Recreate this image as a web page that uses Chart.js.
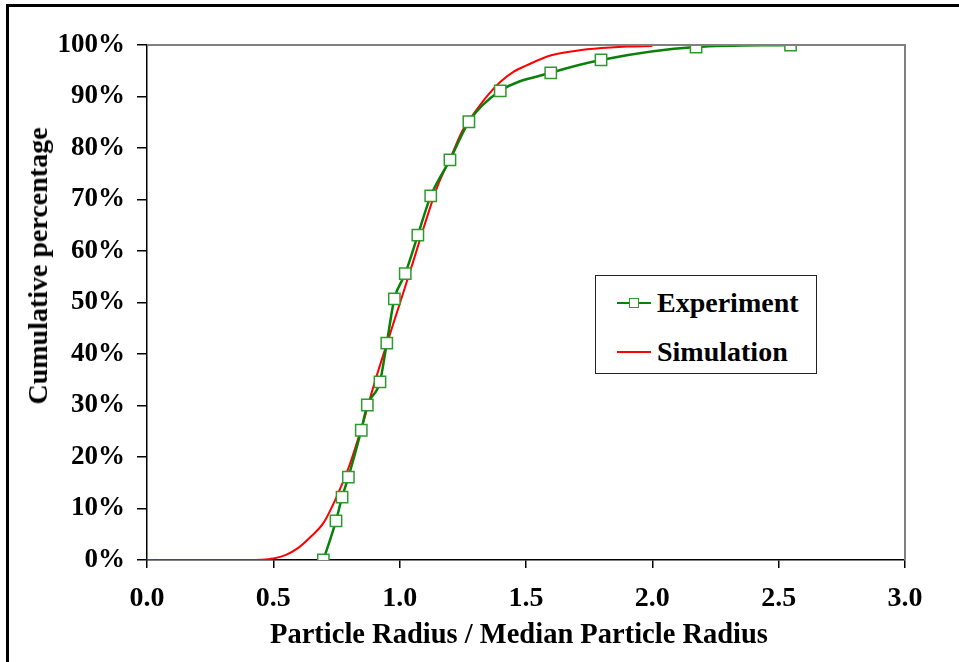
<!DOCTYPE html>
<html>
<head>
<meta charset="utf-8">
<script src="https://cdn.jsdelivr.net/npm/chart.js@4/dist/chart.umd.min.js"></script>
<style>
  html, body { margin:0; padding:0; background:#fff; overflow:hidden; }
  #wrap { position:relative; width:959px; height:662px; }
  #frame { position:absolute; left:6px; top:4px; width:1000px; height:1000px; border-left:3px solid #000; border-top:3px solid #000; box-sizing:border-box; }
  canvas { position:absolute; left:0; top:0; }
  .serif { font-family:'Liberation Serif','Times New Roman',serif; font-weight:bold; color:#000; }
  #ytitle { position:absolute; left:38px; top:266px; transform:translate(-50%,-50%) rotate(-90deg); white-space:nowrap; font-size:28px; }
  #xtitle { position:absolute; left:519px; top:620px; transform:translateX(-50%); white-space:nowrap; font-size:28.5px; line-height:1; }
  #legend { position:absolute; left:595px; top:275px; width:222px; height:99px; border:1.5px solid #222; box-sizing:border-box; background:#fff; }
  .lrow { position:absolute; left:0; height:30px; width:220px; }
  .lline { position:absolute; left:21px; width:34px; height:2px; }
  .lmark { position:absolute; left:33px; width:10px; height:10px; border:1.5px solid #2e9a2e; background:#fff; box-sizing:border-box; }
  .ltext { position:absolute; left:61px; font-size:28px; line-height:30px; }
</style>
</head>
<body>
<div id="wrap">
  <div id="frame"></div>
  <canvas id="c" width="959" height="662"></canvas>
  <div id="ytitle" class="serif">Cumulative percentage</div>
  <div id="xtitle" class="serif">Particle Radius / Median Particle Radius</div>
  <div id="legend">
    <div class="lrow" style="top:12px;">
      <div class="lline" style="top:14px;background:#0a800a;"></div>
      <div class="lmark" style="top:10px;"></div>
      <div class="ltext serif" style="top:0;">Experiment</div>
    </div>
    <div class="lrow" style="top:61px;">
      <div class="lline" style="top:14px;background:#ff0000;"></div>
      <div class="ltext serif" style="top:0;">Simulation</div>
    </div>
  </div>
</div>
<script>
// Experiment data (ratio r/median, cumulative %)
const expX = [0.698, 0.748, 0.772, 0.797, 0.848, 0.872, 0.922, 0.949, 0.979, 1.022, 1.072, 1.123, 1.199, 1.274, 1.398, 1.598, 1.797, 2.173, 2.547];
const expY = [0.0, 7.6, 12.2, 16.1, 25.2, 30.1, 34.6, 42.1, 50.7, 55.6, 63.1, 70.7, 77.7, 85.1, 91.1, 94.6, 97.1, 99.6, 100.0];

// Simulation curve
const simX = [0.0, 0.1, 0.2, 0.3, 0.4, 0.45, 0.5, 0.55, 0.6, 0.65, 0.7, 0.75, 0.8, 0.85, 0.9, 0.95, 1.0, 1.05, 1.1, 1.15, 1.2, 1.25, 1.3, 1.35, 1.4, 1.45, 1.5, 1.6, 1.7, 1.8, 1.9, 2.0];
const simY = [0.0, 0.0, 0.0, 0.0, 0.0, 0.05, 0.3, 1.0, 2.4, 4.6, 7.3, 12.2, 18.2, 25.8, 34.3, 42.1, 49.7, 57.4, 65.3, 72.6, 78.0, 83.5, 87.1, 90.3, 92.9, 94.8, 96.0, 98.0, 98.9, 99.4, 99.7, 99.8];

// Axis ticks
const xTickStep = 0.5, xMin = 0, xMax = 3;
const yTickStep = 10, yMin = 0, yMax = 100;

const toPts = (xs, ys) => xs.map((x, i) => ({x: x, y: ys[i]}));

const FONT = "'Liberation Serif','Times New Roman',serif";

const plotBorder = {
  id: 'plotBorder',
  afterDatasetsDraw(chart) {
    const {ctx, chartArea: a} = chart;
    ctx.save();
    ctx.strokeStyle = '#808080';
    ctx.lineWidth = 2;
    ctx.beginPath();
    ctx.moveTo(a.left, a.top);
    ctx.lineTo(a.right, a.top);
    ctx.lineTo(a.right, a.bottom);
    ctx.stroke();
    ctx.restore();
  }
};

new Chart(document.getElementById('c'), {
  type: 'scatter',
  data: {
    datasets: [
      {
        label: 'Simulation',
        data: toPts(simX, simY),
        showLine: true,
        borderColor: '#ff0000',
        borderWidth: 2,
        pointRadius: 0,
        cubicInterpolationMode: 'monotone',
        order: 2
      },
      {
        label: 'Experiment',
        data: toPts(expX, expY),
        showLine: true,
        borderColor: '#0a800a',
        borderWidth: 2.5,
        pointStyle: 'rect',
        pointRadius: 8,
        pointBorderWidth: 1.5,
        pointBorderColor: '#2e9a2e',
        pointBackgroundColor: '#ffffff',
        cubicInterpolationMode: 'monotone',
        order: 1
      }
    ]
  },
  options: {
    responsive: false,
    animation: false,
    devicePixelRatio: 1,
    layout: { padding: { left: 0, top: 45, right: 54, bottom: 0 } },
    plugins: { legend: { display: false }, tooltip: { enabled: false } },
    scales: {
      x: {
        type: 'linear', min: xMin, max: xMax,
        afterFit(s) { s.height = 102; },
        ticks: { stepSize: xTickStep, color: '#000', padding: 14,
                 font: { family: FONT, size: 28, weight: 'bold' },
                 callback: v => v.toFixed(1) },
        grid: { drawOnChartArea: false, drawTicks: true, tickLength: 8, color: '#000', lineWidth: 1.5 },
        border: { color: '#000', width: 1.5 }
      },
      y: {
        type: 'linear', min: yMin, max: yMax,
        afterFit(s) { s.width = 147; },
        ticks: { stepSize: yTickStep, color: '#000', padding: 12,
                 font: { family: FONT, size: 27, weight: 'bold' },
                 callback: v => v + '%' },
        grid: { drawOnChartArea: false, drawTicks: true, tickLength: 10, color: '#000', lineWidth: 1.5 },
        border: { color: '#000', width: 1.5 }
      }
    }
  },
  plugins: [plotBorder]
});
</script>
</body>
</html>
